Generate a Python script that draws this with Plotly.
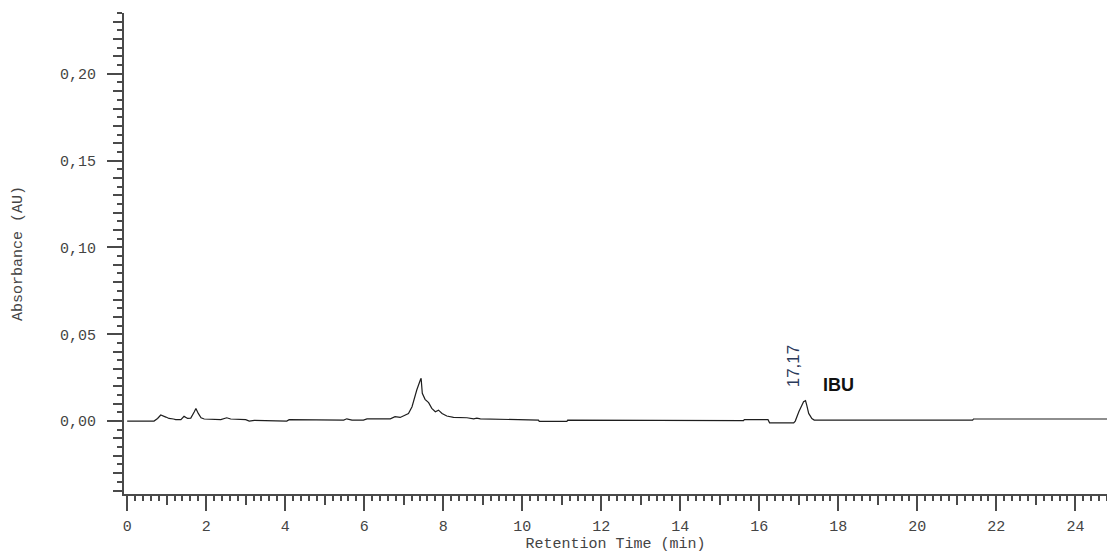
import plotly.graph_objects as go

# Chromatogram trace (retention time in min, absorbance in AU)
time_min = [0, 0.68, 0.77, 0.85, 0.98, 1.06, 1.17, 1.23, 1.36, 1.44, 1.53, 1.61, 1.70, 1.74,
            1.80, 1.87, 1.95, 2.08, 2.16, 2.37, 2.52, 2.62, 3.00, 3.09, 3.22, 3.72, 3.79, 4.04,
            4.10, 4.94, 5.06, 5.48, 5.56, 5.69, 5.98, 6.07, 6.66, 6.78, 6.91, 7.00, 7.12, 7.21,
            7.27, 7.33, 7.42, 7.44, 7.47, 7.54, 7.63, 7.71, 7.80, 7.88, 7.97, 8.09, 8.26, 8.60,
            8.77, 8.85, 8.94, 9.61, 9.74, 10.41, 10.43, 11.13, 11.15, 11.62, 11.64, 15.60, 15.62,
            16.22, 16.26, 16.87, 16.91, 17.00, 17.12, 17.17, 17.20, 17.25, 17.33, 17.39, 21.40,
            21.42, 24.80]
absorbance = [0, 0, 0.0015, 0.0035, 0.0023, 0.0015, 0.0012, 0.0008, 0.0008, 0.0027, 0.0015,
              0.0017, 0.0054, 0.0073, 0.0044, 0.0019, 0.0012, 0.0012, 0.0008, 0.0008, 0.0019,
              0.0012, 0.0008, 0.0, 0.0004, 0.0004, 0.0, 0.0, 0.0008, 0.0008, 0.0009, 0.0006,
              0.0013, 0.0006, 0.0006, 0.0013, 0.0013, 0.0025, 0.0021, 0.0029, 0.0044, 0.0083,
              0.014, 0.0179, 0.0236, 0.0246, 0.016, 0.0125, 0.0106, 0.0073, 0.0054, 0.0063,
              0.0044, 0.0029, 0.0021, 0.0019, 0.0013, 0.0017, 0.0013, 0.0009, 0.0005, 0.0005,
              -0.0002, -0.0002, 0.0005, 0.0005, 0.0002, 0.0002, 0.0008, 0.0008, -0.001, -0.001,
              0.0, 0.0054, 0.0111, 0.0117, 0.0092, 0.0044, 0.0015, 0.0006, 0.0006, 0.0012, 0.0012]

peak_time = 17.17
peak_label = "17,17"
peak_name = "IBU"

x_range = [-0.08, 24.8]
y_range = [-0.042, 0.235]

mono = "Liberation Mono, Courier New, monospace"
axis_col = "#4a4a4a"
text_col = "#444444"

fig = go.Figure()
fig.add_trace(go.Scatter(x=time_min, y=absorbance, mode="lines",
                         line=dict(color="#1e1e1e", width=1.2), showlegend=False,
                         hoverinfo="skip"))
# empty trace to host the medium-tick overlay axes
fig.add_trace(go.Scatter(x=[], y=[], xaxis="x2", yaxis="y2", showlegend=False))

common = dict(showgrid=False, zeroline=False, ticks="outside", tickcolor=axis_col,
              tickwidth=1.5, automargin=False)

fig.update_layout(
    width=1107, height=553,
    margin=dict(l=124, r=0, t=13, b=59),
    plot_bgcolor="white", paper_bgcolor="white",
    separators=",.",
    xaxis=dict(range=x_range, dtick=2, tick0=0, ticklen=15, showline=True,
               linecolor=axis_col, linewidth=2,
               tickfont=dict(family=mono, size=15, color=text_col),
               ticklabelstandoff=2,
               minor=dict(dtick=0.2, tick0=0, ticks="outside", ticklen=5,
                          tickcolor=axis_col, tickwidth=1.5),
               title=dict(text="Retention Time (min)",
                          font=dict(family=mono, size=15, color=text_col), standoff=2),
               **common),
    yaxis=dict(range=y_range, dtick=0.05, tick0=0, tickformat=".2f", ticklen=15,
               showline=True, linecolor=axis_col, linewidth=2,
               tickfont=dict(family=mono, size=15, color=text_col),
               ticklabelstandoff=8,
               minor=dict(dtick=0.005, tick0=0, ticks="outside", ticklen=5,
                          tickcolor=axis_col, tickwidth=1.5),
               title=dict(text="Absorbance (AU)",
                          font=dict(family=mono, size=15, color=text_col), standoff=34),
               **common),
    xaxis2=dict(range=x_range, overlaying="x", side="bottom", anchor="y2", dtick=1, tick0=0,
                ticklen=10, showticklabels=False, showline=False, **common),
    yaxis2=dict(range=y_range, overlaying="y", side="left", anchor="x2", dtick=0.01, tick0=0,
                ticklen=10, showticklabels=False, showline=False, **common),
    annotations=[
        dict(x=peak_time - 0.31, y=0.0317, xref="x", yref="y", text=peak_label,
             textangle=-90, showarrow=False,
             font=dict(family="Arial, Liberation Sans", size=17, color="#2b3a5a")),
        dict(x=18.0, y=0.0207, xref="x", yref="y", text="<b>" + peak_name + "</b>",
             showarrow=False,
             font=dict(family="Arial, Liberation Sans", size=18, color="#111111")),
    ],
)

fig.write_html("out.html",
               config={"displayModeBar": False},
               post_script="document.body.style.margin='0';document.body.style.overflow='hidden';")
